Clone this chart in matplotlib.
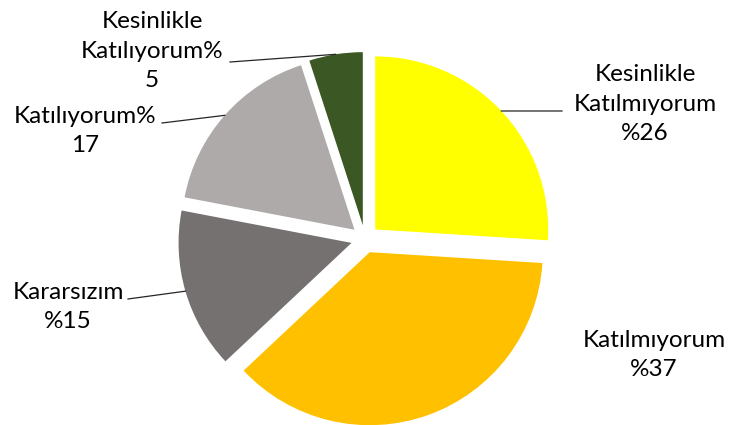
import numpy as np
import matplotlib
matplotlib.use("Agg")
import matplotlib.pyplot as plt

categories = ["Kesinlikle\nKatılmıyorum", "Katılmıyorum", "Kararsızım", "Katılıyorum", "Kesinlikle\nKatılıyorum"]
values = [26, 37, 15, 17, 5]
label_texts = ["Kesinlikle\nKatılmıyorum\n%26", "Katılmıyorum\n%37", "Kararsızım\n%15",
               "Katılıyorum%\n17", "Kesinlikle\nKatılıyorum%\n5"]
colors = ["#FFFF00", "#FFC000", "#767171", "#AEAAAA", "#3A5724"]

W, H = 730, 425
fig = plt.figure(figsize=(7.3, 4.25), dpi=100)
ax = fig.add_axes([0, 0, 1, 1])

cx, cy, R = 365, H - 239, 173
EXPL = 14
wedges, _ = ax.pie(values, colors=colors, startangle=90, counterclock=False,
                   explode=[EXPL] * len(values), radius=R, center=(cx, cy),
                   wedgeprops=dict(linewidth=0))
ax.set_xlim(0, W)
ax.set_ylim(0, H)
ax.set_aspect("equal")
ax.axis("off")

# label centers (pixel coords from top-left) and leader line end points
label_pos = [(645, 104), (654, 355), (68, 307), (85, 131), (152, 51)]
leader_end = [(562, 111), None, (128, 299), (162, 123), (230, 62)]

for w, txt, (lx, ly), le in zip(wedges, label_texts, label_pos, leader_end):
    ax.text(lx, H - ly, txt, ha="center", va="center", fontsize=17.5,
            family="Lato", color="#000000", linespacing=1.5)
    if le is not None:
        ang = np.deg2rad((w.theta1 + w.theta2) / 2)
        ex = w.center[0] + w.r * np.cos(ang)
        ey = w.center[1] + w.r * np.sin(ang)
        ax.plot([ex, le[0]], [ey, H - le[1]], color="#262626", lw=0.9)

fig.savefig("out.png", dpi=100)
